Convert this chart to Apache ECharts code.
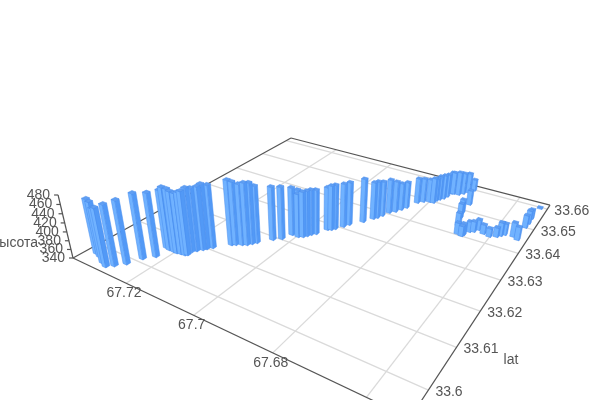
<!DOCTYPE html>
<html><head><meta charset="utf-8"><style>html,body{margin:0;background:#fff}#c{width:600px;height:400px}</style>
<script src="https://cdn.jsdelivr.net/npm/echarts@6/dist/echarts.min.js"></script></head>
<body><div id="c"></div>
<script>
var lonValues=[67.7351,67.7334,67.7308,67.7290,67.7276,67.7259,67.7244,67.7225,67.7232,67.7220,67.7205,67.7196,67.7185,67.7174,67.7169,67.7170,67.7163,67.7154,67.7149,67.7140,67.7111,67.7103,67.7090,67.7080,67.7073,67.7066,67.7042,67.7026,67.7016,67.7009,67.6998,67.6988,67.6982,67.6977,67.6969,67.6956,67.6948,67.6942,67.6930,67.6923,67.6900,67.6886,67.6880,67.6874,67.6866,67.6855,67.6847,67.6840,67.6827,67.6816,67.6802,67.6791,67.6789,67.6784,67.6777,67.6773,67.6770,67.6765,67.6751,67.6742,67.6732,67.6723,67.6704,67.6704,67.6698,67.6687,67.6674,67.6662,67.6660,67.6653,67.6644,67.6637,67.6620,67.6603,67.6588,67.6581,67.6574,67.6553,67.6540,67.6541,67.6540,67.6541,67.6536];
var latValues=[33.5978,33.5974,33.5964,33.5959,33.5969,33.5985,33.6012,33.6030,33.6062,33.6060,33.6060,33.6060,33.6062,33.6063,33.6066,33.6078,33.6085,33.6094,33.6100,33.6109,33.6136,33.6141,33.6147,33.6152,33.6160,33.6168,33.6193,33.6205,33.6228,33.6240,33.6228,33.6233,33.6240,33.6248,33.6256,33.6281,33.6285,33.6292,33.6308,33.6321,33.6346,33.6368,33.6376,33.6389,33.6408,33.6419,33.6433,33.6447,33.6479,33.6490,33.6497,33.6498,33.6510,33.6518,33.6527,33.6540,33.6558,33.6560,33.6562,33.6572,33.6583,33.6599,33.6532,33.6491,33.6469,33.6436,33.6406,33.6403,33.6409,33.6426,33.6431,33.6443,33.6434,33.6430,33.6437,33.6445,33.6453,33.6455,33.6448,33.6502,33.6521,33.6544,33.6596];
var heightValues=[464,464,462,470,476,481,486,483,472,482,482,479,477,481,483,484,482,483,487,483,488,484,479,482,480,471,463,461,451,442,441,446,446,446,444,441,445,445,443,442,444,429,429,424,422,415,406,404,402,399,397,402,397,400,400,397,395,395,398,393,390,369,376,373,375,372,367,364,367,365,365,365,362,360,362,372,367,374,371,370,372,363,343];
var lonTicks=[67.72,67.7,67.68,67.66];
var latTicks=[33.6,33.61,33.62,33.63,33.64,33.65,33.66];
var heightTicks=[340,360,380,400,420,440,460,480];
var lonLabelTicks=[67.72,67.7,67.68];
var lonRange=[67.6518,67.738], latRange=[33.5943,33.6621], heightRange=[340,480];

// Perspective camera of the reference, as a projective matrix over (s,t,z) in the unit box
var M={a:217.2,b:351.6,c:73,d:37.9,e:-56.6,f:258,g:-.2922,h:.4591,lam:-63/1085,Vx:315,Vy:1280};
function projector(params,api){
  var cs=params.coordSys;
  return function(lon,lat,hgt){
    var p=api.coord([lon,lat]);
    var s=(p[0]-cs.x)/cs.width, t=(cs.y+cs.height-p[1])/cs.height;
    var z=echarts.number.linearMap(hgt,heightRange,[0,1]);
    var w=M.g*s+M.h*t+1+M.lam*z;
    return [(M.a*s+M.b*t+M.c+M.lam*M.Vx*z)/w,(M.d*s+M.e*t+M.f+M.lam*M.Vy*z)/w];
  };
}
function seg(P,p,q,color,width){
  return {type:'line',shape:{x1:p[0],y1:p[1],x2:q[0],y2:q[1]},style:{stroke:color,lineWidth:width||1},silent:true};
}
function label(txt,x,y,align){
  return {type:'text',x:x,y:y,style:{text:txt,fill:'#555',font:'14px "Liberation Sans", Arial, sans-serif',align:align||'center',verticalAlign:'middle'},silent:true};
}
function renderGuides(params,api){
  var P=projector(params,api),ch=[];
  var lo=lonRange,la=latRange,z0=heightRange[0],z1=heightRange[1],q;
  lonTicks.forEach(function(v){ch.push(seg(P,P(v,la[0],z0),P(v,la[1],z0),'#dadada',1.3));});
  latTicks.forEach(function(v){ch.push(seg(P,P(lo[0],v,z0),P(lo[1],v,z0),'#dadada',1.3));});
  var dark='#555';
  ch.push(seg(P,P(lo[1],la[0],z0),P(lo[0],la[0],z0),dark,1.2));
  ch.push(seg(P,P(lo[0],la[0],z0),P(lo[0],la[1],z0),dark,1.2));
  ch.push(seg(P,P(lo[0],la[1],z0),P(lo[1],la[1],z0),dark,1.2));
  ch.push(seg(P,P(lo[1],la[1],z0),P(lo[1],la[0],z0),dark,1.2));
  ch.push(seg(P,P(lo[1],la[0],z0),P(lo[1],la[0],z1),dark,1.2));
  heightTicks.forEach(function(v){
    q=P(lo[1],la[0],v);
    ch.push(seg(P,[q[0]-4,q[1]],q,dark,1.2));
    ch.push(label(String(v),q[0]-8,q[1],'right'));
  });
  lonLabelTicks.forEach(function(v){q=P(v,la[0],z0);ch.push(label(String(v),q[0]-2,q[1]+10));});
  latTicks.forEach(function(v){q=P(lo[0],v,z0);ch.push(label(String(v),q[0]+7,q[1]+2,'left'));});
  ch.push(label('lat',511,360));
  ch.push(label('высота',15,243));
  return {type:'group',children:ch};
}
var hwLon=.00062,hwLat=.00044;
function poly(pts,fill){
  return {type:'polygon',shape:{points:pts},style:{fill:fill,stroke:'#4a8eee',lineWidth:.5},silent:true};
}
function renderBar(params,api){
  var P=projector(params,api);
  var lon=api.value(0),lat=api.value(1),v=api.value(2),z0=heightRange[0];
  var l0=lon-hwLon,l1=lon+hwLon,a0=lat-hwLat,a1=lat+hwLat;
  // l0 is nearer the viewer along lon, a0 nearer along lat
  var left=[P(l1,a0,z0),P(l0,a0,z0),P(l0,a0,v),P(l1,a0,v)];
  var right=[P(l0,a0,z0),P(l0,a1,z0),P(l0,a1,v),P(l0,a0,v)];
  var top=[P(l1,a0,v),P(l0,a0,v),P(l0,a1,v),P(l1,a1,v)];
  return {type:'group',children:[poly(left,'#70b2ff'),poly(right,'#5299f6'),poly(top,'#609ff2')]};
}
var barData=lonValues.map(function(l,i){return [l,latValues[i],heightValues[i]];});
barData.sort(function(p,q){
  var d=function(r){return (lonRange[1]-r[0])/(lonRange[1]-lonRange[0])-(r[1]-latRange[0])/(latRange[1]-latRange[0]);};
  return d(p)-d(q);
});
var chart=echarts.init(document.getElementById('c'));
chart.setOption({
  animation:false,
  backgroundColor:'#fff',
  grid:{left:100,top:100,width:400,height:200},
  xAxis:{type:'value',min:lonRange[0],max:lonRange[1],inverse:true,show:false},
  yAxis:{type:'value',min:latRange[0],max:latRange[1],show:false},
  series:[
    {type:'custom',name:'guides',coordinateSystem:'cartesian2d',clip:false,silent:true,data:[[lonRange[0],latRange[0]]],renderItem:renderGuides,z:1},
    {type:'custom',name:'высота',coordinateSystem:'cartesian2d',clip:false,silent:true,encode:{x:0,y:1},data:barData,renderItem:renderBar,z:2}
  ]
});
</script></body></html>
